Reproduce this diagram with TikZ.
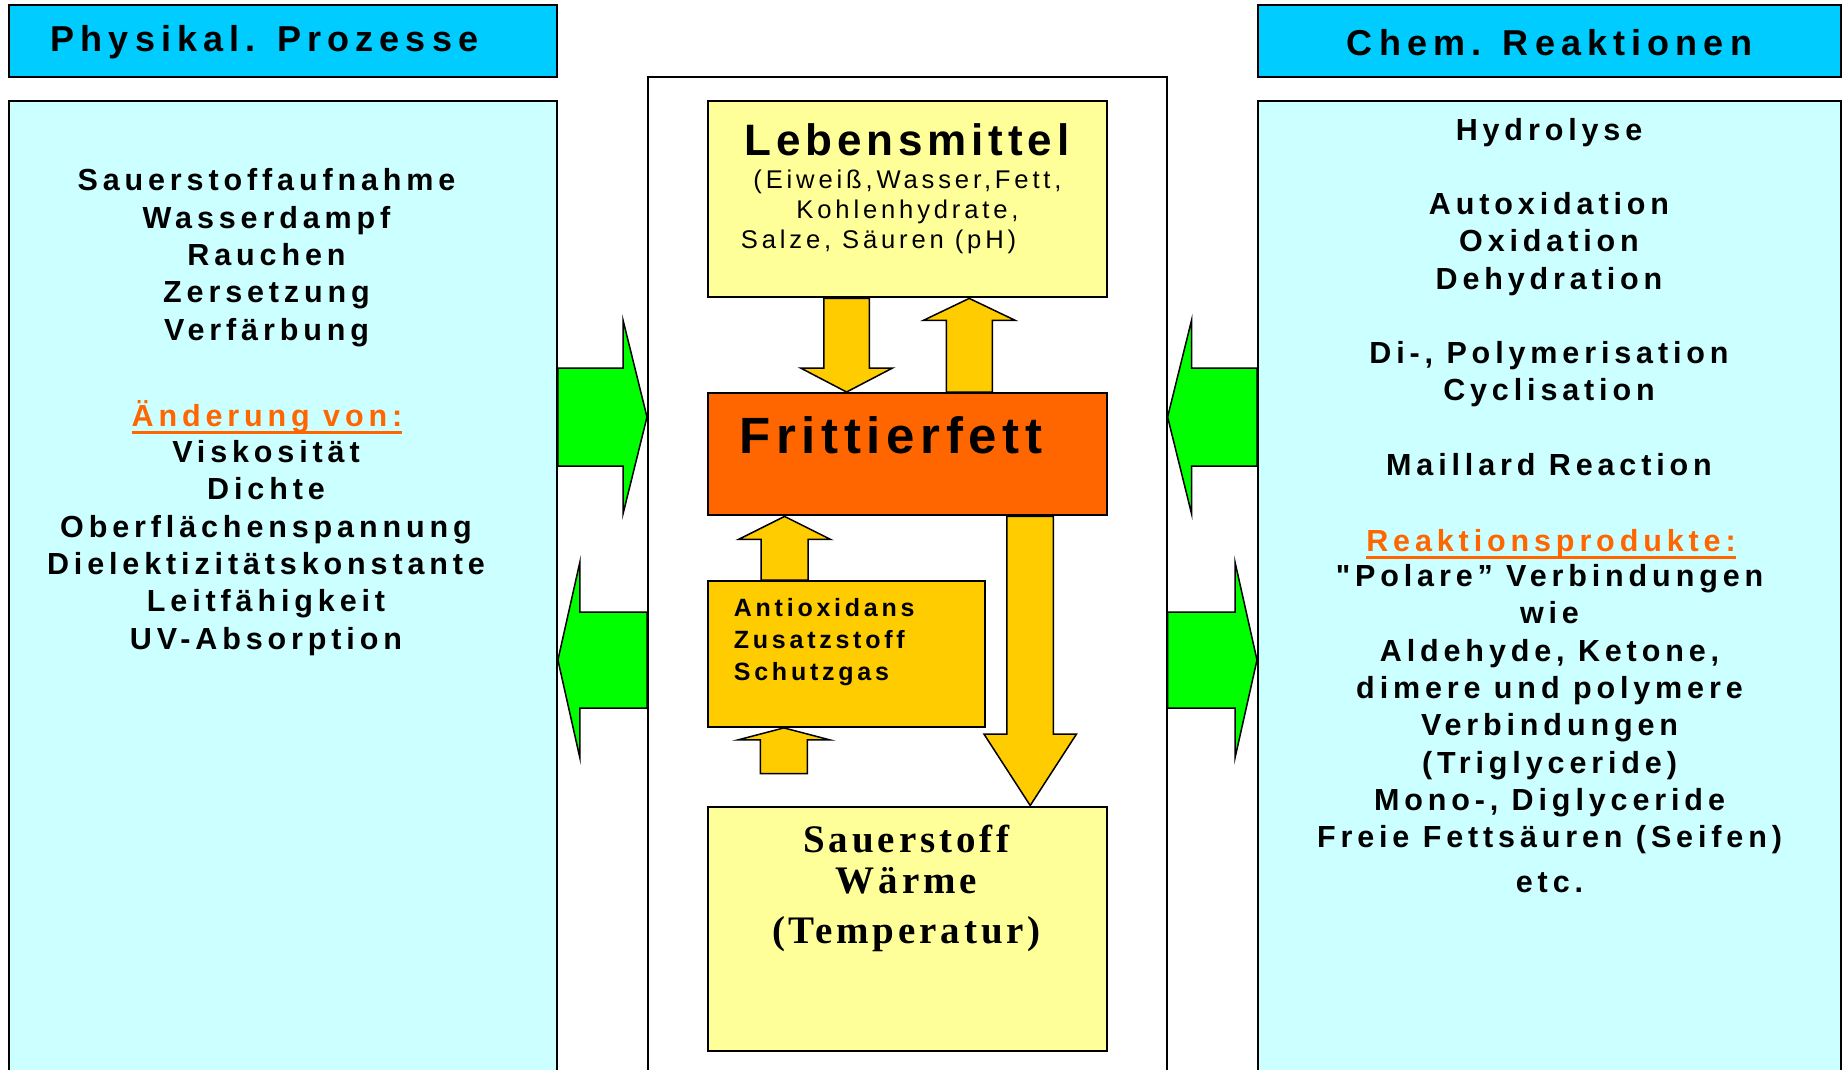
\documentclass[tikz,border=0pt]{standalone}
\usepackage{fontspec}
\setmainfont{Liberation Sans}
\newfontfamily\headfont[LetterSpace=17]{Liberation Sans}
\newfontfamily\listfont[LetterSpace=16]{Liberation Sans}
\newfontfamily\titlefont[LetterSpace=11]{Liberation Sans}
\newfontfamily\notefont[LetterSpace=15]{Liberation Sans}
\newfontfamily\heatfont[LetterSpace=10]{Liberation Serif}
\usetikzlibrary{calc,positioning}
\definecolor{headcyan}{HTML}{00CCFF}
\definecolor{palecyan}{HTML}{CCFFFF}
\definecolor{paleyellow}{HTML}{FFFF99}
\definecolor{fatorange}{HTML}{FF6600}
\definecolor{amber}{HTML}{FFCC00}
\definecolor{signalgreen}{HTML}{00FF00}

% block arrow: [style] tail, tip, half shaft, half head, head length
\newcommand\blockarrow[6][]{%
  \path (#2) coordinate (ba-tail) (#3) coordinate (ba-tip);
  \path ($(ba-tip)!#6!(ba-tail)$) coordinate (ba-head);
  \draw[plate,#1] ($(ba-tail)!#4!90:(ba-tip)$) -- ($(ba-head)!#4!90:(ba-tip)$)
    -- ($(ba-head)!#5!90:(ba-tip)$) -- (ba-tip) -- ($(ba-head)!#5!-90:(ba-tip)$)
    -- ($(ba-head)!#4!-90:(ba-tip)$) -- ($(ba-tail)!#4!-90:(ba-tip)$) -- cycle;
}

\begin{document}
\begin{tikzpicture}[x=1pt,y=-1pt,
  panel/.style={draw,line width=2.4pt,inner sep=0pt,anchor=north west},
  headbox/.style={panel,fill=headcyan,minimum height=72pt},
  listbox/.style={panel,fill=palecyan,minimum height=1000pt},
  foodbox/.style={panel,fill=paleyellow,minimum width=398.6pt},
  plate/.style={draw,line width=1.5pt,fill=amber},
  push/.style={fill=signalgreen},
  headtext/.style={anchor=base,inner sep=0pt,font=\headfont\bfseries\fontsize{36}{40}\selectfont},
  listtext/.style={anchor=base,inner sep=0pt,align=center,font=\listfont\bfseries\fontsize{30.5}{37.3}\selectfont},
  subhead/.style={listtext,text=fatorange},
  subrule/.style={fatorange,line width=3pt}
]
  \useasboundingbox (0,0) rectangle (1844,1070);
  \clip (0,0) rectangle (1844,1070);

  % side panels
  \node[headbox,minimum width=548pt] (physhead) at (7.5,4) {};
  \node[listbox,minimum width=548pt] (phys) at (7.5,100) {};
  \node[headbox,minimum width=583pt] (chemhead) at (1257,4) {};
  \node[listbox,minimum width=583pt] (chem) at (1257,100) {};

  % centre column
  \node[panel,line width=1.6pt,minimum width=519pt,minimum height=1030pt] (mid) at (647,76) {};
  \node[foodbox,minimum height=196pt] (food) at (707,100) {};
  \node[panel,fill=fatorange,minimum width=398.6pt,minimum height=122pt] (fat) at (707,392) {};
  \node[panel,fill=amber,minimum width=276.7pt,minimum height=145.5pt] (guard) at (707,580) {};
  \node[foodbox,minimum height=244.5pt] (heat) at (707,805.5) {};

  % yellow arrows
  \coordinate (down-x) at ($(food.south west)!0.348!(food.south east)$);
  \coordinate (up-x) at ($(fat.north west)!0.654!(fat.north east)$);
  \coordinate (guard-x) at ($(guard.north west)!0.278!(guard.north east)$);
  \coordinate (heat-x) at ($(fat.south west)!0.806!(fat.south east)$);
  \coordinate (feed) at (783.9,773.5);
  \blockarrow{down-x}{fat.north -| down-x}{22.75pt}{46pt}{24pt}
  \blockarrow{up-x}{food.south -| up-x}{23pt}{46pt}{22pt}
  \blockarrow{guard-x}{fat.south -| guard-x}{23.5pt}{46pt}{23pt}
  \blockarrow{feed}{guard.south -| feed}{23.5pt}{46pt}{12pt}
  \blockarrow{heat-x}{heat.north -| heat-x}{23.25pt}{46.3pt}{71.5pt}

  % green arrows
  \coordinate (upper) at (0,417);
  \coordinate (lower) at (0,660);
  \blockarrow[push]{phys.east |- upper}{mid.west |- upper}{49pt}{97pt}{24pt}
  \blockarrow[push]{mid.west |- lower}{phys.east |- lower}{48pt}{98pt}{22pt}
  \blockarrow[push]{chem.west |- upper}{mid.east |- upper}{49pt}{97pt}{24pt}
  \blockarrow[push]{mid.east |- lower}{chem.west |- lower}{48pt}{98pt}{22pt}

  % headings
  \node[headtext] (physlabel) at (264.5,52) {Physikal. Prozesse};
  \node[headtext] (chemlabel) at (1549.5,56) {Chem. Reaktionen};

  % left list (base = last line)
  \node[listtext] (physlist) at (266.5,340)
    {Sauerstoffaufnahme\\Wasserdampf\\Rauchen\\Zersetzung\\Verfärbung};
  \node[subhead] (change) at (267,426) {Änderung von:};
  \draw[subrule] ([yshift=-6pt]change.base west) -- ([yshift=-6pt]change.base east);
  \node[listtext] (proplist) at (266,649)
    {Viskosität\\Dichte\\Oberflächenspannung\\Dielektizitätskonstante\\Leitfähigkeit\\UV-Absorption};

  % right list
  \node[listtext] (chemlist) at (1549,475)
    {Hydrolyse\\[37pt]Autoxidation\\Oxidation\\Dehydration\\[37pt]Di-, Polymerisation\\Cyclisation\\[37pt]Maillard Reaction};
  \node[subhead] (products) at (1551,551) {Reaktionsprodukte:};
  \draw[subrule] ([yshift=-6pt]products.base west) -- ([yshift=-6pt]products.base east);
  \node[listtext] (productlist) at (1549.5,892)
    {"Polare” Verbindungen\\wie\\Aldehyde, Ketone,\\dimere und polymere\\Verbindungen\\(Triglyceride)\\Mono-, Diglyceride\\Freie Fettsäuren (Seifen)\\[7pt]etc.};

  % centre labels
  \node[anchor=base,inner sep=0pt,font=\titlefont\bfseries\fontsize{44}{48}\selectfont] (foodlabel) at (907,155) {Lebensmittel};
  \node[anchor=base,inner sep=0pt,align=center,font=\notefont\fontsize{25.6}{30}\selectfont] (foodparts) at (907.5,248)
    {(Eiweiß,Wasser,Fett,\\Kohlenhydrate,\\Salze, Säuren (pH)\hspace*{58pt}};
  \node[anchor=base,inner sep=0pt,font=\titlefont\bfseries\fontsize{51}{56}\selectfont] (fatlabel) at (891,453.3) {Frittierfett};
  \node[anchor=base west,inner sep=0pt,align=left,font=\notefont\bfseries\fontsize{25}{32}\selectfont] (guardlabel) at (733.7,680)
    {Antioxidans\\Zusatzstoff\\Schutzgas};
  \node[anchor=base,inner sep=0pt,align=center,font=\heatfont\bfseries\fontsize{39}{41}\selectfont] (heatlabel) at (906.5,943.3)
    {Sauerstoff\\Wärme\\[9pt](Temperatur)};
\end{tikzpicture}
\end{document}
